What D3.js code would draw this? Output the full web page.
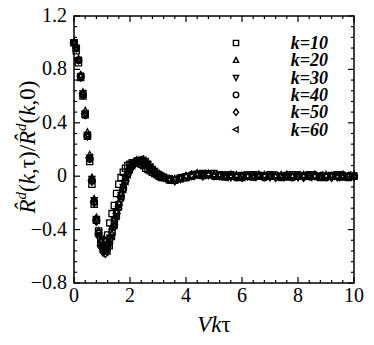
<!DOCTYPE html>
<html>
<head>
<meta charset="utf-8">
<script src="https://cdn.jsdelivr.net/npm/d3@7"></script>
</head>
<body style="margin:0">
<svg width="374" height="345" style="font-family:'Liberation Serif'"></svg>
<script>
// shared Vk*tau grid (early part dense, tail coarser)
var vkt = [0, 0.08, 0.16, 0.24, 0.32, 0.40, 0.48, 0.56, 0.64, 0.72, 0.80, 0.88, 0.96, 1.04, 1.12, 1.20, 1.28, 1.36, 1.44, 1.52,
	1.60, 1.68, 1.76, 1.84, 1.92, 2.00, 2.08, 2.16, 2.24, 2.32, 2.40, 2.48, 2.56, 2.64, 2.72, 2.80, 2.88, 2.96, 3.04, 3.12, 3.20,
	3.4, 3.6, 3.8, 4.0, 4.2, 4.4, 4.6, 4.8, 5.0, 5.2, 5.4, 5.6, 5.8, 6.0, 6.2, 6.4, 6.6, 6.8, 7.0, 7.2, 7.4, 7.6, 7.8, 8.0,
	8.2, 8.4, 8.6, 8.8, 9.0, 9.2, 9.4, 9.6, 9.8, 10.0];

var k10 = [1.00, 0.94, 0.85, 0.74, 0.60, 0.46, 0.30, 0.11, -0.06, -0.21, -0.33, -0.41, -0.47, -0.49, -0.48, -0.44, -0.35, -0.28, -0.22, -0.13,
	-0.06, -0.01, 0.03, 0.06, 0.08, 0.09, 0.10, 0.10, 0.11, 0.10, 0.09, 0.08, 0.06, 0.05, 0.04, 0.03, 0.02, 0.01, 0.00, -0.01, -0.01,
	-0.02, -0.03, -0.02, -0.01, 0.00, 0.01, 0.02, 0.01, 0.02, 0.01, 0.00, 0.01, 0.00, -0.01, 0.00, 0.01, 0.00, 0.00, 0.01, 0.00,
	-0.01, 0.00, 0.01, 0.00, 0.00, 0.01, 0.00, -0.01, 0.00, 0.00, 0.01, 0.00, -0.01, 0.00];
var k20 = [1.00, 0.96, 0.88, 0.76, 0.63, 0.49, 0.33, 0.16, -0.01, -0.17, -0.31, -0.41, -0.48, -0.52, -0.53, -0.50, -0.45, -0.38, -0.32, -0.26,
	-0.20, -0.13, -0.07, -0.01, 0.04, 0.07, 0.09, 0.11, 0.12, 0.12, 0.12, 0.12, 0.11, 0.09, 0.07, 0.05, 0.03, 0.02, 0.01, 0.00, -0.01,
	-0.03, -0.02, -0.02, 0.00, 0.01, 0.01, 0.00, 0.02, 0.01, 0.00, -0.01, 0.00, 0.01, 0.00, 0.00, -0.01, 0.00, 0.01, 0.00, 0.00,
	0.01, -0.01, 0.00, 0.00, 0.01, 0.00, 0.00, -0.01, 0.01, 0.00, 0.00, -0.01, 0.00, 0.01];
var k30 = [1.00, 0.96, 0.87, 0.75, 0.62, 0.47, 0.31, 0.14, -0.02, -0.18, -0.32, -0.42, -0.49, -0.53, -0.54, -0.51, -0.46, -0.39, -0.33, -0.27,
	-0.21, -0.14, -0.08, -0.02, 0.03, 0.07, 0.09, 0.10, 0.11, 0.12, 0.12, 0.11, 0.10, 0.09, 0.07, 0.05, 0.04, 0.02, 0.01, 0.00, -0.01,
	-0.02, -0.04, -0.01, 0.00, 0.00, 0.02, 0.01, 0.01, 0.00, 0.01, 0.00, -0.01, 0.00, 0.01, 0.00, 0.00, 0.01, 0.00, -0.01, 0.00,
	0.00, 0.01, 0.00, -0.01, 0.00, 0.01, 0.00, 0.00, 0.00, 0.01, -0.01, 0.00, 0.00, -0.01];
var k40 = [1.00, 0.96, 0.87, 0.75, 0.61, 0.46, 0.30, 0.13, -0.03, -0.19, -0.33, -0.43, -0.50, -0.54, -0.55, -0.52, -0.47, -0.42, -0.36, -0.28,
	-0.21, -0.15, -0.09, -0.03, 0.02, 0.06, 0.08, 0.10, 0.11, 0.11, 0.11, 0.10, 0.09, 0.08, 0.06, 0.05, 0.03, 0.02, 0.01, 0.00, -0.01,
	-0.03, -0.03, -0.01, -0.01, 0.01, 0.01, 0.01, 0.02, 0.00, 0.00, 0.01, 0.00, -0.01, 0.00, 0.01, 0.00, 0.00, -0.01, 0.00, 0.01,
	0.00, 0.00, -0.01, 0.01, 0.00, 0.00, 0.01, 0.00, -0.01, 0.00, 0.00, 0.01, 0.00, 0.00];
var k50 = [1.00, 0.96, 0.87, 0.74, 0.61, 0.46, 0.30, 0.13, -0.04, -0.20, -0.34, -0.45, -0.53, -0.57, -0.58, -0.55, -0.50, -0.44, -0.38, -0.31,
	-0.24, -0.17, -0.10, -0.04, 0.01, 0.05, 0.08, 0.10, 0.11, 0.11, 0.11, 0.10, 0.09, 0.08, 0.06, 0.05, 0.03, 0.02, 0.01, 0.00, -0.01,
	-0.02, -0.03, -0.02, 0.00, 0.01, 0.02, 0.00, 0.01, 0.01, 0.00, 0.00, 0.01, 0.00, -0.01, 0.00, 0.00, 0.01, 0.00, 0.00, -0.01,
	0.00, 0.01, 0.00, 0.00, -0.01, 0.00, 0.01, 0.00, 0.00, -0.01, 0.00, 0.01, 0.00, 0.00];
var k60 = [1.00, 0.96, 0.87, 0.75, 0.62, 0.47, 0.31, 0.14, -0.03, -0.19, -0.33, -0.44, -0.52, -0.56, -0.57, -0.56, -0.52, -0.45, -0.37, -0.30,
	-0.23, -0.16, -0.10, -0.04, 0.01, 0.05, 0.08, 0.10, 0.11, 0.12, 0.13, 0.12, 0.11, 0.09, 0.07, 0.05, 0.03, 0.02, 0.01, 0.00, -0.01,
	-0.03, -0.02, -0.01, 0.00, 0.00, 0.01, 0.02, 0.01, 0.00, 0.01, -0.01, 0.00, 0.00, 0.01, 0.00, -0.01, 0.00, 0.00, 0.01, 0.00,
	-0.01, 0.00, 0.00, 0.01, 0.00, -0.01, 0.00, 0.01, 0.00, 0.00, -0.01, 0.00, 0.01, 0.00];

var seriesNames = ["k=10", "k=20", "k=30", "k=40", "k=50", "k=60"];
var seriesValues = [k10, k20, k30, k40, k50, k60];
var xTicks = [0, 2, 4, 6, 8, 10];
var yTicks = [-0.8, -0.4, 0, 0.4, 0.8, 1.2];

var svg = d3.select("svg");
var pLeft = 74, pRight = 354, pTop = 16, pBottom = 283;

var x = d3.scaleLinear().domain([0, 10]).range([pLeft, pRight]);
var y = d3.scaleLinear().domain([-0.8, 1.2]).range([pBottom, pTop]);

// marker shapes, r is half width
function shape(i, r) {
	if (i == 0) return "M" + (-r) + "," + (-r) + "h" + 2 * r + "v" + 2 * r + "h" + (-2 * r) + "Z";
	if (i == 1) return "M0," + (-r * 1.1) + "L" + r + "," + r * 0.8 + "L" + (-r) + "," + r * 0.8 + "Z";
	if (i == 2) return "M0," + r * 1.1 + "L" + r + "," + (-r * 0.8) + "L" + (-r) + "," + (-r * 0.8) + "Z";
	if (i == 3) return d3.arc()({innerRadius: 0, outerRadius: r * 1.05, startAngle: 0, endAngle: 2 * Math.PI});
	if (i == 4) return "M0," + (-r * 1.25) + "L" + r + ",0L0," + r * 1.25 + "L" + (-r) + ",0Z";
	return "M" + (-r * 1.1) + ",0L" + r * 0.8 + "," + (-r) + "L" + r * 0.8 + "," + r + "Z";
}

// ticks, inward on all four sides
var axes = svg.append("g").attr("stroke", "#000").attr("stroke-width", 1.2);
var xMinor = d3.range(0, 10.001, 0.4);
var yMinor = d3.range(-0.8, 1.2001, 0.08);
xMinor.forEach(function(v) {
	var len = Math.abs(v / 2 - Math.round(v / 2)) < 1e-6 ? 6 : 3;
	axes.append("line").attr("x1", x(v)).attr("x2", x(v)).attr("y1", pBottom).attr("y2", pBottom - len);
	axes.append("line").attr("x1", x(v)).attr("x2", x(v)).attr("y1", pTop).attr("y2", pTop + len);
});
yMinor.forEach(function(v) {
	var len = Math.abs(v / 0.4 - Math.round(v / 0.4)) < 1e-6 ? 6 : 3;
	axes.append("line").attr("y1", y(v)).attr("y2", y(v)).attr("x1", pLeft).attr("x2", pLeft + len);
	axes.append("line").attr("y1", y(v)).attr("y2", y(v)).attr("x1", pRight).attr("x2", pRight - len);
});
svg.append("rect")
	.attr("x", pLeft).attr("y", pTop)
	.attr("width", pRight - pLeft).attr("height", pBottom - pTop)
	.attr("fill", "none").attr("stroke", "#000").attr("stroke-width", 1.5);

// tick labels
svg.selectAll(".xl").data(xTicks).enter().append("text")
	.attr("class", "lbl")
	.attr("x", function(d) { return x(d); })
	.attr("y", 302)
	.attr("text-anchor", "middle")
	.attr("style", "font-family:'Liberation Serif';font-size:20px")
	.text(function(d) { return d; });
svg.selectAll(".yl").data(yTicks).enter().append("text")
	.attr("class", "lbl")
	.attr("x", 67)
	.attr("y", function(d) { return y(d) + 6; })
	.attr("text-anchor", "end")
	.attr("style", "font-family:'Liberation Serif';font-size:20px")
	.text(function(d) { return d == 0 ? "0" : d3.format(".1f")(d); });

// axis titles
var xt = svg.append("text").attr("class", "lbl").attr("x", 214).attr("y", 332)
	.attr("text-anchor", "middle")
	.attr("style", "font-family:'Liberation Serif';font-size:23px");
xt.append("tspan").attr("style", "font-style:italic").text("Vk");
xt.append("tspan").text("τ");

var yt = svg.append("text").attr("class", "lbl")
	.attr("transform", "translate(35,147) rotate(-90)")
	.attr("text-anchor", "middle")
	.attr("style", "font-family:'Liberation Serif';font-size:23px");
yt.append("tspan").attr("style", "font-style:italic").text("R\u0302");
yt.append("tspan").attr("dy", -9).attr("style", "font-style:italic;font-size:15px").text("d");
yt.append("tspan").attr("dy", 9).text("(");
yt.append("tspan").attr("style", "font-style:italic").text("k");
yt.append("tspan").text(",τ)/");
yt.append("tspan").attr("style", "font-style:italic").text("R\u0302");
yt.append("tspan").attr("dy", -9).attr("style", "font-style:italic;font-size:15px").text("d");
yt.append("tspan").attr("dy", 9).text("(");
yt.append("tspan").attr("style", "font-style:italic").text("k");
yt.append("tspan").text(",0)");

// data points
var plot = svg.append("g");
seriesValues.forEach(function(vals, i) {
	plot.selectAll(".s" + i)
		.data(vals)
		.enter().append("path")
		.attr("class", "s" + i)
		.attr("transform", function(d, j) { return "translate(" + x(vkt[j]) + "," + y(d) + ")"; })
		.attr("d", shape(i, 3.1))
		.attr("fill", "none")
		.attr("stroke", "#000")
		.attr("stroke-width", 1.3);
});

// legend
var legendG = svg.selectAll(".legend")
	.data(seriesNames)
	.enter().append("g")
	.attr("class", "legend")
	.attr("transform", function(d, i) { return "translate(0," + (43 + i * 17.3) + ")"; });
legendG.append("path")
	.attr("transform", "translate(236,0)")
	.attr("d", function(d, i) { return shape(i, 2.6); })
	.attr("fill", "none").attr("stroke", "#000").attr("stroke-width", 1.4);
legendG.append("text")
	.attr("class", "lbl")
	.attr("x", 328).attr("y", 6)
	.attr("text-anchor", "end")
	.attr("style", "font-family:'Liberation Serif';font-size:18px;font-style:italic;font-weight:bold")
	.text(function(d) { return d; });

// system font may resolve late; reapply once loaded
if (document.fonts && document.fonts.load) {
	Promise.all([
		document.fonts.load("20px 'Liberation Serif'"),
		document.fonts.load("italic 20px 'Liberation Serif'"),
		document.fonts.load("italic bold 18px 'Liberation Serif'")
	]).then(function() {
		svg.selectAll(".lbl").each(function() {
			var s = this.getAttribute("style");
			this.setAttribute("style", s + ";");
		});
	});
}
</script>
</body>
</html>
